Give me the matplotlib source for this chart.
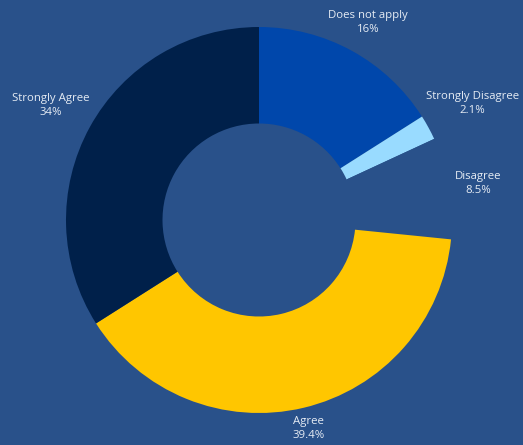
import numpy as np
import matplotlib.pyplot as plt

plt.rcParams['font.family'] = ['Open Sans', 'DejaVu Sans']

# survey answers, clockwise from the top
answers = ['Does not apply', 'Strongly Disagree', 'Disagree', 'Agree', 'Strongly Agree']
shares = [16, 2.1, 8.5, 39.4, 34]
pct_labels = ['16%', '2.1%', '8.5%', '39.4%', '34%']

bg = '#29518a'
colors = ['#0047ab', '#99dbff', bg, '#ffc600', '#00204a']
explode = [0, 0.05, 0, 0, 0]
label_dist = [1.17, 1.26, 1.15, 1.11, 1.23]

fig = plt.figure(figsize=(5.23, 4.45), dpi=100)
fig.patch.set_facecolor(bg)
ax = fig.add_axes([0, 0, 1, 1])
ax.set_facecolor(bg)

cx, cy, r = 259, 225, 193
wedges, _ = ax.pie(shares, colors=colors, explode=explode, startangle=90,
                   counterclock=False, center=(cx, cy), radius=r,
                   wedgeprops=dict(width=r * 0.5, linewidth=0))

# pie() resets the limits, so set the pixel-sized view afterwards
ax.set_xlim(0, 523)
ax.set_ylim(0, 445)
ax.set_aspect('equal')
ax.axis('off')

for w, name, pct, d in zip(wedges, answers, pct_labels, label_dist):
    mid = np.deg2rad((w.theta1 + w.theta2) / 2)
    x = cx + r * d * np.cos(mid)
    y = cy + r * d * np.sin(mid)
    ax.text(x, y, name + '\n' + pct, ha='center', va='center',
            color='#e6ecf4', fontsize=8.2, linespacing=1.35)

fig.savefig('out.png', dpi=100, facecolor=bg)
